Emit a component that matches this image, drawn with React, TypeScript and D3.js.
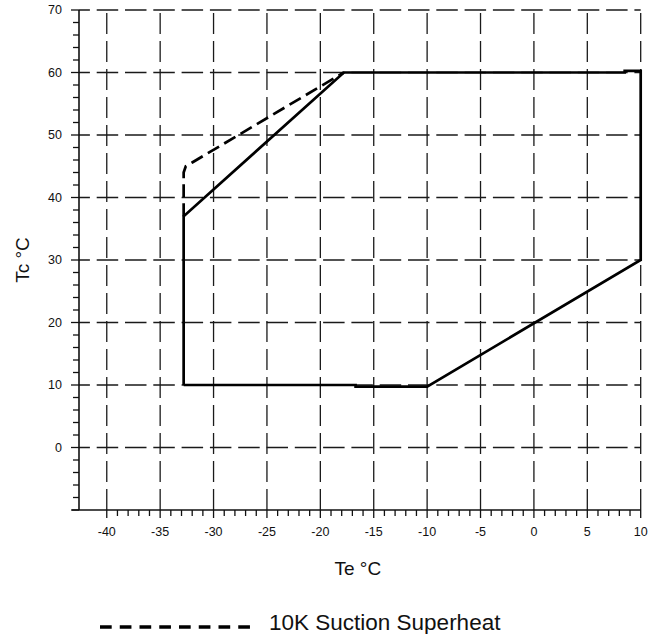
import { line, range, scaleLinear } from "d3";

// operating envelope (solid)
const envelopeTe = [-32.8, -32.8, -17.8, 8.5, 8.5, 10, 10, -10, -16.7, -16.7, -32.8];
const envelopeTc = [10, 37, 60, 60, 60.25, 60.25, 30, 9.75, 9.75, 10, 10];

// 10K suction superheat (dashed)
const superheatTe = [-32.8, -32.8, -32.6, -32.0, -17.8];
const superheatTc = [37, 44, 45, 45.6, 60];

const xTickLabels = [-40, -35, -30, -25, -20, -15, -10, -5, 0, 5, 10];
const yTickLabels = [0, 10, 20, 30, 40, 50, 60, 70];
const xMinorTicks = range(-40, 11, 1);
const yMinorTicks = range(-10, 71, 2);

const legendLabel = "10K Suction Superheat";
const xTitle = "Te °C";
const yTitle = "Tc °C";

const font = "'Liberation Sans', Arial, sans-serif";

export default function App() {
  const x = scaleLinear().domain([-42.6, 10]).range([79, 640.7]);
  const y = scaleLinear().domain([-10, 70]).range([510, 10]);
  const [x0, x1] = x.range();
  const [y0, y1] = y.range();

  const toPath = (te: number[], tc: number[]) =>
    line<[number, number]>()
      .x((d) => x(d[0]))
      .y((d) => y(d[1]))(te.map((t, i) => [t, tc[i]]));

  return (
    <svg
      width={662}
      height={634}
      style={{ position: "absolute", left: 0, top: 0, background: "#fff" }}
    >
      {/* grid */}
      <g stroke="#1a1a1a" strokeWidth={1.3} fill="none">
        {xTickLabels.map((t) => (
          <line
            key={`gx${t}`}
            x1={x(t)}
            x2={x(t)}
            y1={y0}
            y2={y1}
            strokeDasharray="21 7"
          />
        ))}
        {yTickLabels.map((t) => (
          <line
            key={`gy${t}`}
            x1={x0}
            x2={x1}
            y1={y(t)}
            y2={y(t)}
            strokeDasharray="21.5 6.8"
            strokeDashoffset={10.6}
          />
        ))}
      </g>

      {/* axes */}
      <g stroke="#111" strokeWidth={1.6}>
        <line x1={x0} x2={x0} y1={y1} y2={y0} />
        <line x1={x0 - 7} x2={x1} y1={y0} y2={y0} />
        {xMinorTicks.map((t) => (
          <line
            key={`tx${t}`}
            x1={x(t)}
            x2={x(t)}
            y1={y0}
            y2={y0 + (t % 5 === 0 ? 8 : 6)}
            strokeWidth={1.3}
          />
        ))}
        {yMinorTicks.map((t) => (
          <line
            key={`ty${t}`}
            x1={x0 - (t % 10 === 0 ? 8 : 6)}
            x2={x0}
            y1={y(t)}
            y2={y(t)}
            strokeWidth={1.3}
          />
        ))}
      </g>

      {/* tick labels */}
      <g fontFamily={font} fontSize={12.5} fill="#111">
        {xTickLabels.map((t) => (
          <text key={`lx${t}`} x={x(t)} y={536} textAnchor="middle">
            {t}
          </text>
        ))}
        {yTickLabels.map((t) => (
          <text key={`ly${t}`} x={62} y={y(t) + 4} textAnchor="end">
            {t}
          </text>
        ))}
      </g>

      {/* data */}
      <path
        d={toPath(envelopeTe, envelopeTc) ?? ""}
        fill="none"
        stroke="#000"
        strokeWidth={2.7}
        strokeLinejoin="miter"
      />
      <path
        d={toPath(superheatTe, superheatTc) ?? ""}
        fill="none"
        stroke="#000"
        strokeWidth={2.7}
        strokeDasharray="13 6"
        strokeLinejoin="round"
      />

      {/* axis titles */}
      <text
        x={(x0 + x1) / 2 - 2}
        y={575}
        textAnchor="middle"
        fontFamily={font}
        fontSize={19}
        fill="#111"
      >
        {xTitle}
      </text>
      <text
        transform={`translate(29, ${(y0 + y1) / 2}) rotate(-90)`}
        textAnchor="middle"
        fontFamily={font}
        fontSize={19}
        fill="#111"
      >
        {yTitle}
      </text>

      {/* legend */}
      <line
        x1={100}
        x2={250}
        y1={627}
        y2={627}
        stroke="#000"
        strokeWidth={3.5}
        strokeDasharray="11.7 8.05"
      />
      <text x={269} y={630} fontFamily={font} fontSize={22.5} fill="#111">
        {legendLabel}
      </text>
    </svg>
  );
}
